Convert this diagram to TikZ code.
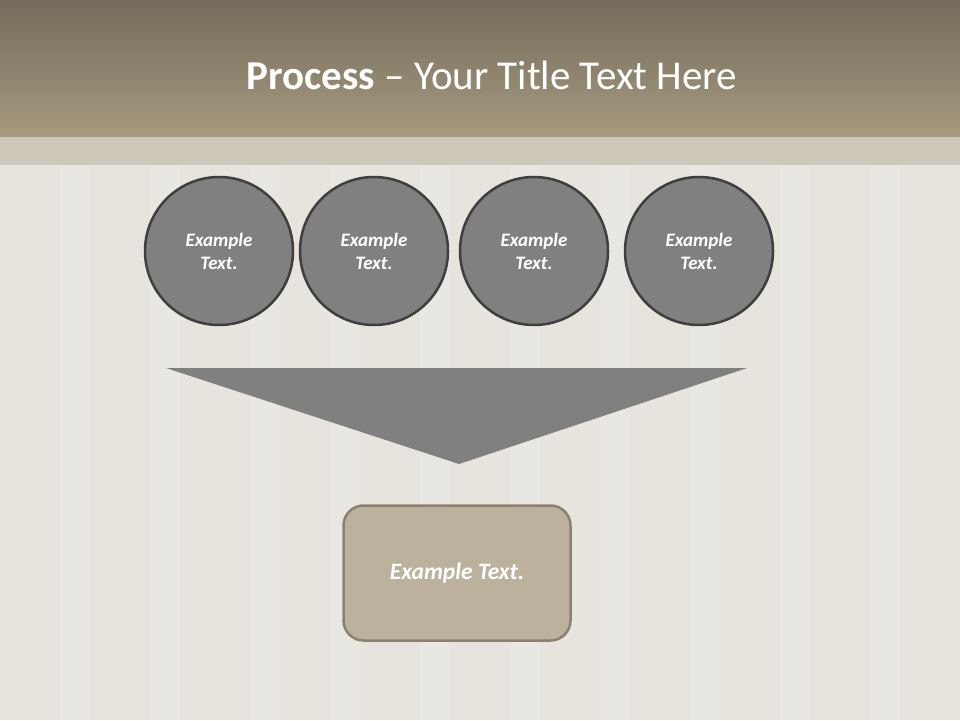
\documentclass[tikz,border=0pt]{standalone}
\usepackage{fontspec}
\setmainfont{Carlito}
\usetikzlibrary{positioning}
\definecolor{bandtop}{HTML}{746B5A}
\definecolor{bandbot}{HTML}{A69A80}
\definecolor{stripcol}{HTML}{CEC8BB}
\definecolor{paper}{HTML}{E7E4DD}
\definecolor{disc}{HTML}{808080}
\definecolor{discrim}{HTML}{3F3F3F}
\definecolor{boxfill}{HTML}{BCB19C}
\definecolor{boxrim}{HTML}{8A8170}
\tikzset{stepdisc/.style={circle, draw=discrim, line width=2.5pt, fill=disc,
    minimum size=148pt, inner sep=0pt, align=center, text=white,
    font=\fontsize{19}{23}\selectfont\bfseries\itshape}}
\tikzset{resultbox/.style={draw=boxrim, line width=2.5pt, fill=boxfill,
    rounded corners=20pt, minimum width=227pt, minimum height=135pt,
    text=white, font=\fontsize{23.5}{28}\selectfont\bfseries\itshape}}

\begin{document}
\begin{tikzpicture}[x=1pt, y=-1pt]
    \useasboundingbox (0, 0) rectangle (960, 720);
    \fill[paper] (0, 0) rectangle (960, 720);
    \foreach \sx in {60, 150, 250, 330, 420, 510, 600, 690, 780, 870}
      \fill[white, opacity=.12] (\sx, 165) rectangle (\sx+30, 720);
    \shade[top color=bandtop, bottom color=bandbot] (0, 0) rectangle (960, 137);
    \fill[stripcol] (0, 137) rectangle (960, 165);
    \node[text=white, font=\fontsize{41}{48}\selectfont] (title) at (492, 75)
      {\textbf{Process} -- Your Title Text Here};
    \node[stepdisc] (s1) at (219, 251) {Example\\Text.};
    \node[stepdisc] (s2) at (374, 251) {Example\\Text.};
    \node[stepdisc] (s3) at (534, 251) {Example\\Text.};
    \node[stepdisc] (s4) at (699, 251) {Example\\Text.};
    \fill[disc] (166, 368) -- (747, 368) -- (459, 464) -- cycle;
    \node[resultbox] (res) at (457, 573) {Example Text.};
  \end{tikzpicture}
\end{document}
